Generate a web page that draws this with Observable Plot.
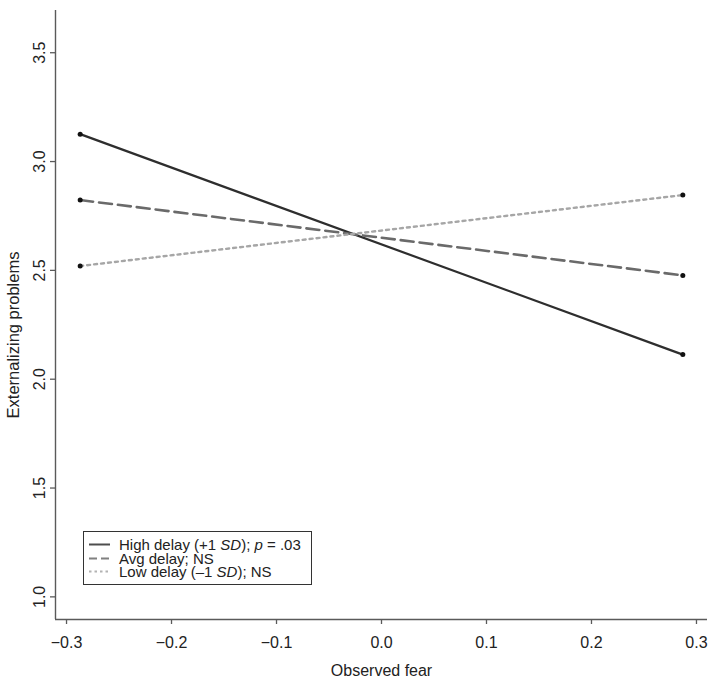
<!DOCTYPE html>
<html>
<head>
<meta charset="utf-8">
<script src="https://cdn.jsdelivr.net/npm/d3@7"></script>
<script src="https://cdn.jsdelivr.net/npm/@observablehq/plot@0.6"></script>
<style>
  html, body { margin: 0; padding: 0; background: #fff; }
  #wrap { position: relative; width: 714px; height: 681px; font-family: "Liberation Sans", Arial, sans-serif; }
  #legend { position: absolute; left: 83px; top: 531px; width: 229px; height: 54px; border: 1px solid #333; background: #fff; box-sizing: border-box; padding: 6px 0 0 5px; font-size: 15px; line-height: 13.5px; color: #222; }
  #legend .row { display: flex; align-items: center; white-space: nowrap; height: 13.5px; }
  #legend svg { margin-right: 8px; flex: none; }
</style>
</head>
<body>
<div id="wrap"></div>
<script>
// Data
const fearX = [-0.287, 0.287];
const highDelay = [3.126, 2.113];
const avgDelay = [2.823, 2.477];
const lowDelay = [2.520, 2.846];
const seriesNames = ["High delay", "Avg delay", "Low delay"];
const xTicks = [-0.3, -0.2, -0.1, 0.0, 0.1, 0.2, 0.3];
const yTicks = [1.0, 1.5, 2.0, 2.5, 3.0, 3.5];
const xDomain = [-0.3105, 0.3105];
const yDomain = [0.896, 3.694];

const seriesValues = [highDelay, avgDelay, lowDelay];
const styles = {
  "High delay": {stroke: "#2e2e2e", width: 2.2, dash: null},
  "Avg delay": {stroke: "#6a6a6a", width: 2.6, dash: "13,6"},
  "Low delay": {stroke: "#a6a6a6", width: 2.4, dash: "3,4"}
};
const rows = [];
seriesNames.forEach((s, i) => fearX.forEach((x, j) => rows.push({series: s, x, y: seriesValues[i][j]})));

const fmt = d => (d < 0 ? "\u2212" : "") + Math.abs(d).toFixed(1);
const axisColor = "#5a5a5a";

const marks = [];
// axis lines
marks.push(Plot.ruleX([xDomain[0]], {stroke: axisColor, strokeWidth: 1.4}));
marks.push(Plot.ruleY([yDomain[0]], {stroke: axisColor, strokeWidth: 1.4}));
seriesNames.forEach(s => {
  marks.push(Plot.line(rows.filter(r => r.series === s), {
    x: "x", y: "y", stroke: styles[s].stroke, strokeWidth: styles[s].width,
    strokeDasharray: styles[s].dash
  }));
});
marks.push(Plot.dot(rows, {x: "x", y: "y", r: 2.5, fill: "#111", stroke: null}));
// x axis
marks.push(Plot.axisX({ticks: xTicks, tickFormat: fmt, tickSize: 5, tickPadding: 12, label: null, stroke: axisColor, strokeWidth: 1.3, color: "#222", fontSize: 16}));
// y axis ticks only (labels drawn rotated below)
marks.push(Plot.axisY({ticks: yTicks, tickSize: 5, label: null, stroke: axisColor, strokeWidth: 1.3, fill: "none"}));
marks.push(Plot.text(yTicks, {y: d => d, text: d => d.toFixed(1), frameAnchor: "left", dx: -16, rotate: -90, textAnchor: "middle", lineAnchor: "middle", fontSize: 16, fill: "#222"}));
// axis titles
marks.push(Plot.text(["Observed fear"], {frameAnchor: "bottom", dy: 51, textAnchor: "middle", lineAnchor: "middle", fontSize: 16, fill: "#222"}));
marks.push(Plot.text(["Externalizing problems"], {frameAnchor: "left", rotate: -90, dx: -42, dy: 20, textAnchor: "middle", lineAnchor: "middle", fontSize: 16.5, fill: "#222"}));

const chart = Plot.plot({
  width: 714,
  height: 681,
  marginLeft: 55,
  marginRight: 7,
  marginTop: 10,
  marginBottom: 62,
  style: {fontFamily: "'Liberation Sans', Arial, sans-serif", fontSize: "16px", background: "#fff", overflow: "visible"},
  x: {domain: xDomain},
  y: {domain: yDomain},
  marks
});
const wrap = document.getElementById("wrap");
wrap.appendChild(chart);

// Legend
const legendLabels = [
  ["High delay (+1 ", "SD", "); ", "p", " = .03"],
  ["Avg delay; NS"],
  ["Low delay (\u20131 ", "SD", "); NS"]
];
const leg = document.createElement("div");
leg.id = "legend";
seriesNames.forEach((s, i) => {
  const row = document.createElement("div");
  row.className = "row";
  const st = styles[s];
  row.innerHTML = `<svg width="22" height="13"><line x1="0" x2="21" y1="6.5" y2="6.5" stroke="${st.stroke}" stroke-width="2" ${st.dash ? `stroke-dasharray="${i === 1 ? '8,4' : '2.5,3'}"` : ""} opacity="0.85"/></svg>`;
  const span = document.createElement("span");
  legendLabels[i].forEach(p => {
    if (p === "SD" || p === "p") { const e = document.createElement("i"); e.textContent = p; span.appendChild(e); }
    else span.appendChild(document.createTextNode(p));
  });
  row.appendChild(span);
  leg.appendChild(row);
});
wrap.appendChild(leg);
</script>
</body>
</html>
